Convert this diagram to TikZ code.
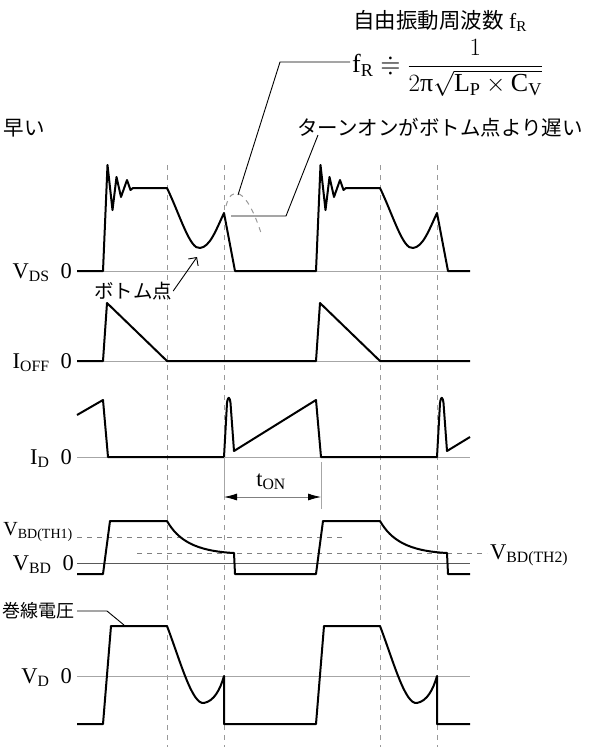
\documentclass[tikz,border=0pt]{standalone}
\usepackage{amsmath,amssymb}
\usepackage{fontspec}
\setmainfont{Liberation Serif}
\newfontfamily\jpfont{Noto Sans CJK JP}
\usepackage{tikz}
\usetikzlibrary{arrows.meta}

\begin{document}
\begin{tikzpicture}[
    x=1pt, y=-1pt,
    font=\fontsize{22.5}{26}\selectfont,
    wave/.style={line width=2pt, line join=round},
    axis/.style={gray!70, line width=1pt},
    guide/.style={gray!80, line width=1pt, dash pattern=on 5pt off 5pt},
    thres/.style={gray, line width=0.8pt, dash pattern=on 5pt off 5pt},
    leader/.style={line width=0.9pt},
    siglabel/.style={anchor=base east, inner sep=0pt},
    jp/.style={font=\jpfont\fontsize{20.5}{24}\selectfont, inner sep=0pt}
]
    \useasboundingbox (0,0) rectangle (593,747);

    % Timing guides
    \foreach \x in {167, 224, 380, 437} {
        \draw[guide] (\x,165) -- (\x,747);
    }

    % Zero lines
    \foreach \y in {271, 361, 457, 676} {
        \draw[axis] (77,\y) -- (470,\y);
    }
    \draw[axis, black!65] (77,563) -- (470,563);

    % Thresholds
    \draw[thres] (77,537) -- (345,537);
    \draw[thres] (137,553) -- (487,553);

    % Signal labels
    \node[siglabel] (vds) at (72,278.5) {V\textsubscript{DS}\hspace{11pt}0};
    \node[siglabel] (ioff) at (72,368.5) {I\textsubscript{OFF}\hspace{11pt}0};
    \node[siglabel] (id) at (72,464.5) {I\textsubscript{D}\hspace{11pt}0};
    \node[siglabel, font=\fontsize{20}{24}\selectfont] (vth1) at (73,535) {V\textsubscript{BD(TH1)}};
    \node[siglabel] (vbd) at (74,570.5) {V\textsubscript{BD}\hspace{11pt}0};
    \node[siglabel] (vd) at (72,683.5) {V\textsubscript{D}\hspace{11pt}0};
    \node[anchor=base west, inner sep=0pt] (vth2) at (490,559) {V\textsubscript{BD(TH2)}};

    % V_DS
    \draw[wave] (77,271)
        \foreach \s in {0,213} {
            -- (\s+103,271) -- (\s+107.5,165) -- (\s+112.5,210) -- (\s+116.5,177)
            -- (\s+121,197) -- (\s+127,180) -- (\s+130.5,190) -- (\s+133,188) -- (\s+167,188)
            .. controls (\s+180,215) and (\s+190,250) .. (\s+200,248)
            .. controls (\s+210,247) and (\s+216,230) .. (\s+224,213)
            -- (\s+235,271)
        } -- (470,271);

    % I_OFF
    \draw[wave] (77,361)
        \foreach \s in {0,213} {
            -- (\s+103,361) -- (\s+107,303) -- (\s+167,361)
        } -- (470,361);

    % I_D
    \draw[wave] (77,415)
        \foreach \s in {0,213} {
            -- (\s+103,400) -- (\s+108,457) -- (\s+224,457) -- (\s+227,403)
            .. controls (\s+228,396) and (\s+229.5,396) .. (\s+230.5,403)
            -- (\s+234,451)
        } -- (470,437);

    % V_BD
    \draw[wave] (77,574)
        \foreach \s in {0,213} {
            -- (\s+103,574) -- (\s+110,521) -- (\s+167,521)
            .. controls (\s+178,540) and (\s+195,551) .. (\s+234,553)
            -- (\s+235,574)
        } -- (470,574);

    % V_D
    \draw[wave] (77,724)
        \foreach \s in {0,213} {
            -- (\s+103,724) -- (\s+111,626) -- (\s+167,626)
            .. controls (\s+180,660) and (\s+192,705) .. (\s+204,703)
            .. controls (\s+214,701) and (\s+220,690) .. (\s+224,676)
            -- (\s+224,724)
        } -- (470,724);

    % t_ON
    \draw[axis] (224,457) -- (224,500);
    \draw[axis] (321,462) -- (321,509);
    \coordinate (tonL) at (224,497);
    \coordinate (tonR) at (321,497);
    \draw[{Latex[length=13pt,width=7pt,color=black]}-{Latex[length=13pt,width=7pt,color=black]}, gray, line width=0.8pt] (tonL) -- (tonR);
    \node[anchor=base, inner sep=0pt] (ton) at (271,486) {t\textsubscript{ON}};

    % Formula
    \node[anchor=base, inner sep=0pt, font=\fontsize{21.5}{26}\selectfont] (title) at (440,28) {{\jpfont 自由振動周波数} f\textsubscript{R}};
    \node[anchor=west, inner sep=2pt, font=\fontsize{26}{30}\selectfont] (formula) at (350,68)
        {$\mathrm{f}_\mathrm{R} \doteqdot \dfrac{1}{2\mbox{π}\sqrt{\mathrm{L}_\mathrm{P}\times\mathrm{C}_\mathrm{V}}}$};
    \draw[guide] (226,206) .. controls (231,186) and (246,185) .. (262,236);
    \coordinate (ring) at (238,195);
    \coordinate (knee1) at (280,62);
    \draw[leader] (ring) -- (knee1) -- (knee1 -| formula.west);

    % Annotations
    \node[jp, anchor=east] (early) at (45,128) {早い};
    \node[jp, anchor=west] (late) at (297,128) {ターンオンがボトム点より遅い};
    \coordinate (peak) at (231,216);
    \coordinate (knee2) at (286,216);
    \coordinate (lateend) at (318,135);
    \draw[leader] (peak) -- (knee2) -- (lateend);

    \node[jp, font=\jpfont\fontsize{19.5}{23}\selectfont, inner sep=1pt] (botlbl) at (133,291) {ボトム点};
    \coordinate (vmin) at (197,257);
    \draw[leader, -{Straight Barb[length=6pt]}] (botlbl.east) -- (vmin);

    \node[jp, anchor=east, font=\jpfont\fontsize{18}{22}\selectfont, inner sep=2pt] (wind) at (77,611) {巻線電圧};
    \coordinate (windknee) at (107,611);
    \coordinate (windend) at (124,625);
    \draw[leader] (wind.east) -- (windknee) -- (windend);
\end{tikzpicture}
\end{document}
